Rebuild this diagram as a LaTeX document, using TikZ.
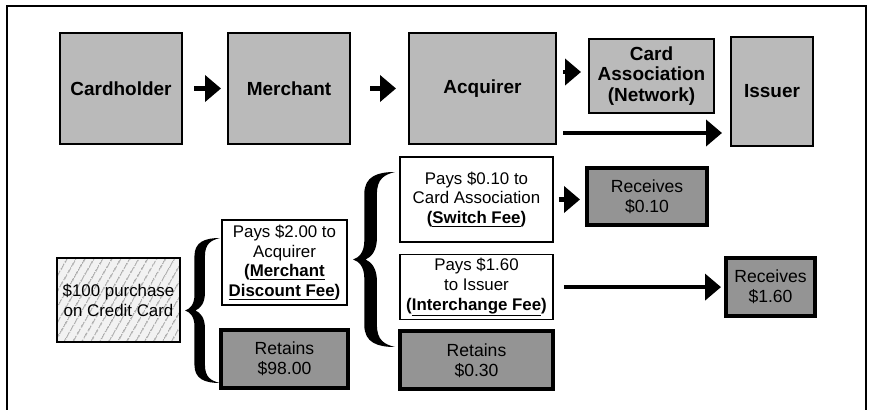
\documentclass[tikz,border=0pt]{standalone}
\usepackage{fontspec}
\setmainfont{Liberation Sans}
\usetikzlibrary{positioning,arrows.meta,calc,patterns.meta}

\begin{document}
\begin{tikzpicture}[
    x=0.25mm, y=-0.25mm,
    font=\fontsize{12}{14.2}\selectfont,
    box/.style={draw, rectangle, align=center, inner sep=0pt},
    party/.style={box, fill=black!27, line width=0.5mm, minimum height=27.75mm,
                  font=\fontsize{13.5}{14.8}\selectfont\bfseries},
    pays/.style={box, fill=white, line width=0.4mm, minimum width=38.25mm},
    kept/.style={box, fill=black!42, line width=1mm, minimum height=14.5mm,
                 font=\fontsize{12.5}{14.2}\selectfont},
    buy/.style={box, line width=0.4mm, preaction={fill=black!5},
                pattern={Lines[angle=60,distance=1.9mm,line width=0.25mm]},
                pattern color=black!50},
    arr/.style={-{Triangle[length=4mm,width=6.5mm]}, line width=1.2mm},
    curly/.pic={
      \fill (1,-1) .. controls (0.58,-1) and (0.27,-0.95) .. (0.27,-0.75)
        -- (0.27,-0.22) .. controls (0.27,-0.08) and (0.14,-0.02) .. (0,0)
        .. controls (0.14,0.02) and (0.27,0.08) .. (0.27,0.22)
        -- (0.27,0.75) .. controls (0.27,0.95) and (0.58,1) .. (1,1)
        .. controls (0.74,0.97) and (0.57,0.92) .. (0.57,0.75)
        -- (0.57,0.25) .. controls (0.57,0.1) and (0.44,0.03) .. (0.3,0)
        .. controls (0.44,-0.03) and (0.57,-0.1) .. (0.57,-0.25)
        -- (0.57,-0.75) .. controls (0.57,-0.92) and (0.74,-0.97) .. (1,-1)
        -- cycle;
    }
  ]
  \useasboundingbox (0,0) rectangle (870,410);
  \draw[line width=0.4mm] (7,410) -- (7,6) -- (866,6) -- (866,410);

  % ===== who is involved =====
  \node[party, minimum width=30.5mm] (card) at (121,88.5) {Cardholder};
  \node[party, minimum width=30.5mm, right=11mm of card] (merch) {Merchant};
  \node[party, minimum width=36.75mm, right=14.25mm of merch] (acq) {Acquirer};
  \node[party, minimum width=31.25mm, minimum height=18.5mm] (net) at (651.5,76)
    {Card\\Association\\(Network)};
  \node[party, minimum width=20.5mm, minimum height=27.25mm] (iss) at (772,91.5) {Issuer};

  \draw[arr, shorten <=2.75mm, shorten >=1.5mm] (card) -- (merch);
  \draw[arr, shorten <=4.75mm, shorten >=3mm] (merch) -- (acq);
  \draw[arr, shorten <=1.5mm, shorten >=1.75mm]
    ([yshift=1mm]acq.east |- net) -- ([yshift=1mm]net.west);
  \draw[arr, shorten <=1.5mm, shorten >=2mm]
    ([yshift=3mm]acq.south east) -- ([yshift=3mm]acq.south east -| iss.west);

  % ===== where the $100 goes =====
  \node[buy, minimum width=30.75mm, minimum height=21mm] (buy) at (118.5,300)
    {\$100 purchase\\on Credit Card};
  \pic[xscale=35, yscale=72.5] at (185,310.5) {curly};

  \node[pays, minimum width=31.25mm, minimum height=21.25mm] (pay2) at (284.5,262.5)
    {Pays \$2.00 to\\Acquirer\\\textbf{(\underline{Merchant}}\\\textbf{\underline{Discount Fee})}};
  \node[kept, minimum width=31.75mm, below=5.5mm of pay2] (keep98) {Retains\\\$98.00};
  \pic[xscale=42, yscale=87.5] at (353,259.5) {curly};

  \node[pays, minimum height=21.25mm] (pay10) at (476.5,199.5)
    {Pays \$0.10 to\\Card Association\\\textbf{(\underline{Switch Fee})}};
  \node[pays, minimum height=16.25mm, below=2.75mm of pay10] (pay160)
    {Pays \$1.60\\to Issuer\\\textbf{(\underline{Interchange Fee})}};
  \node[kept, minimum width=38.25mm, below=2.25mm of pay160] (keep30) {Retains\\\$0.30};

  \node[kept, minimum width=30mm, minimum height=14.25mm] (get10) at (647,196.5)
    {Receives\\\$0.10};
  \node[kept, minimum width=22.25mm] (get160) at (770.5,287) {Receives\\\$1.60};

  \draw[arr, shorten <=1.25mm, shorten >=1.25mm] (pay10) -- (pay10 -| get10.west);
  \draw[arr, shorten <=2.5mm, shorten >=0.75mm] (pay160) -- (pay160 -| get160.west);

\end{tikzpicture}
\end{document}
